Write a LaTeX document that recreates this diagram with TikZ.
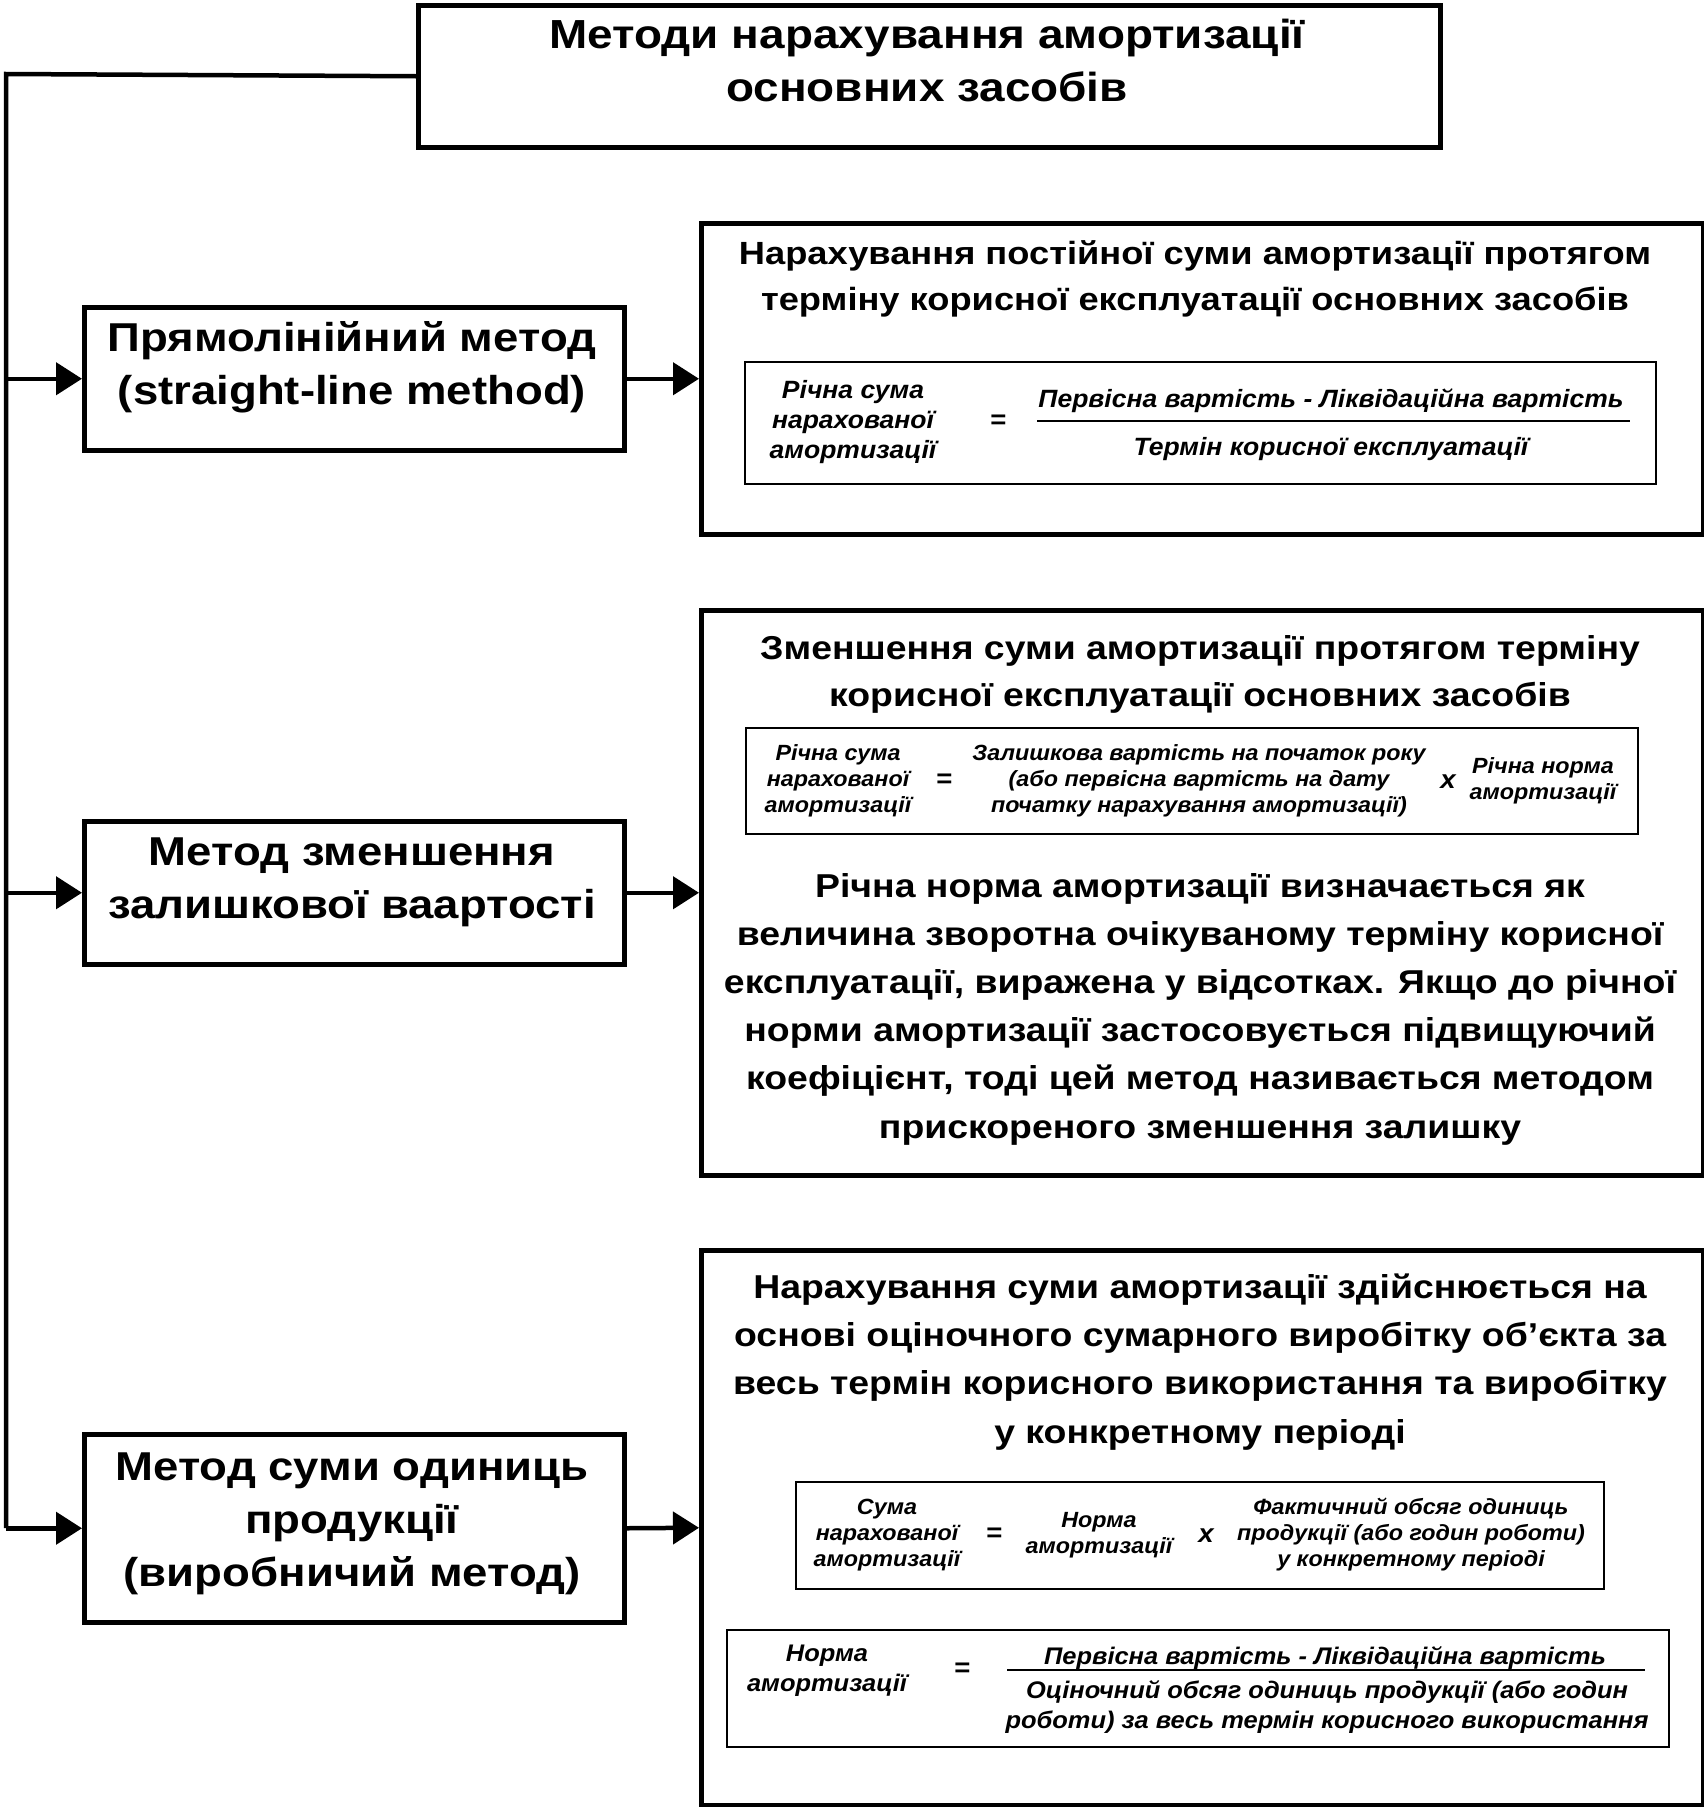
\documentclass[tikz,border=0pt]{standalone}
\usepackage{fontspec}
\setmainfont{Liberation Sans}
\newfontfamily\fwide[FakeStretch=1.13]{Liberation Sans}
\newfontfamily\fform[FakeStretch=1.06]{Liberation Sans}
\usetikzlibrary{arrows.meta}
\tikzset{
  x=1pt,y=1pt,
  bigbox/.style={draw,line width=4.5pt,anchor=north west,inner sep=0pt},
  fbox/.style={draw,line width=2pt,anchor=north west,inner sep=0pt},
  wire/.style={line width=4.5pt},
  arr/.style={line width=4.5pt,-{Triangle[length=26pt,width=32pt]}},
  ttl/.style={font=\fwide\bfseries\fontsize{40.6}{53}\selectfont,align=center,inner sep=0pt},
  mtxt/.style={font=\fwide\bfseries\fontsize{40.3}{53}\selectfont,align=center,inner sep=0pt},
  htxt/.style={font=\fwide\bfseries\fontsize{33.1}{47}\selectfont,align=center,inner sep=0pt},
  htxta/.style={font=\fwide\bfseries\fontsize{32.1}{46}\selectfont,align=center,inner sep=0pt},
  ptxt/.style={font=\fwide\bfseries\fontsize{33.1}{48.2}\selectfont,align=center,inner sep=0pt},
  fa/.style={font=\fform\bfseries\itshape\fontsize{25}{30}\selectfont,align=center,inner sep=0pt},
  fb/.style={font=\fform\bfseries\itshape\fontsize{22}{26}\selectfont,align=center,inner sep=0pt},
  fc/.style={font=\fform\bfseries\itshape\fontsize{24}{30}\selectfont,align=center,inner sep=0pt},
  fop/.style={font=\fform\bfseries\itshape\fontsize{26}{30}\selectfont,inner sep=0pt},
  bar/.style={line width=2pt}
}
\begin{document}
\begin{tikzpicture}
\useasboundingbox (0,0) rectangle (1703,-1807);
% title
\node[bigbox,minimum width=1022,minimum height=142] (title) at (416,-3) {};
\node[ttl] (titletxt) at (927,-60) {Методи нарахування амортизації\\основних засобів};
% left method boxes
\node[bigbox,minimum width=540,minimum height=143] (m1) at (82,-305) {};
\node[mtxt] (m1t) at (352,-367) {Прямолінійний метод\\(straight-line method)};
\node[bigbox,minimum width=540,minimum height=143] (m2) at (82,-819) {};
\node[mtxt] (m2t) at (352,-882) {Метод зменшення\\залишкової ваартості};
\node[bigbox,minimum width=540,minimum height=188] (m3) at (82,-1432) {};
\node[mtxt] (m3t) at (352,-1524) {Метод суми одиниць\\продукції\\(виробничий метод)};
% right boxes
\node[bigbox,minimum width=1002,minimum height=311] (r1) at (699,-221) {};
\node[bigbox,minimum width=1002,minimum height=565] (r2) at (699,-608) {};
\node[bigbox,minimum width=1002,minimum height=555] (r3) at (699,-1248) {};
% connectors
\coordinate (corner) at (6,-74);
\coordinate (vbot) at (6,-1528);
\draw[wire] (title.west) -- (corner) -- (vbot);
\draw[arr] (corner |- m1.west) -- (m1.west);
\draw[arr] (corner |- m2.west) -- (m2.west);
\draw[arr] (corner |- m3.west) -- (m3.west);
\draw[arr] (m1.east) -- (r1.west);
\draw[arr] (m2.east) -- (r2.west);
\draw[arr] (m3.east) -- (r3.west);
% right box 1
\node[htxta] (r1h) at (1195,-279) {Нарахування постійної суми амортизації протягом\\терміну корисної експлуатації основних засобів};
\node[fbox,minimum width=911,minimum height=122] (f1) at (744,-361) {};
\node[fa] (f1a) at (853,-422) {Річна сума\\нарахованої\\амортизації};
\node[fop] (f1eq) at (998,-422) {=};
\node[fa,anchor=base] (f1n) at (1331,-407) {Первісна вартість - Ліквідаційна вартість};
\draw[bar] (1037,-421) -- (1630,-421);
\node[fa,anchor=base] (f1d) at (1331,-455) {Термін корисної експлуатації};
% right box 2
\node[htxt] (r2h) at (1200,-674) {Зменшення суми амортизації протягом терміну\\корисної експлуатації основних засобів};
\node[fbox,minimum width=892,minimum height=106] (f2) at (745,-727) {};
\node[fb] (f2a) at (838,-781) {Річна сума\\нарахованої\\амортизації};
\node[fop] (f2eq) at (944,-781) {=};
\node[fb] (f2b) at (1199,-781) {Залишкова вартість на початок року\\(або первісна вартість на дату\\початку нарахування амортизації)};
\node[fop] (f2x) at (1448,-782) {x};
\node[fb] (f2c) at (1543,-781) {Річна норма\\амортизації};
\node[ptxt] (r2p) at (1200,-1009) {Річна норма амортизації визначається як\\величина зворотна очікуваному терміну корисної\\експлуатації, виражена у відсотках. Якщо до річної\\норми амортизації застосовується підвищуючий\\коефіцієнт, тоді цей метод називається методом\\прискореного зменшення залишку};
% right box 3
\node[ptxt] (r3h) at (1200,-1362) {Нарахування суми амортизації здійснюється на\\основі оціночного сумарного виробітку об’єкта за\\весь термін корисного використання та виробітку\\у конкретному періоді};
\node[fbox,minimum width=808,minimum height=107] (f3) at (795,-1481) {};
\node[fb] (f3a) at (887,-1535) {Сума\\нарахованої\\амортизації};
\node[fop] (f3eq) at (994,-1535) {=};
\node[fb] (f3b) at (1099,-1535) {Норма\\амортизації};
\node[fop] (f3x) at (1206,-1536) {x};
\node[fb] (f3c) at (1411,-1535) {Фактичний обсяг одиниць\\продукції (або годин роботи)\\у конкретному періоді};
\node[fbox,minimum width=942,minimum height=117] (f4) at (726,-1629) {};
\node[fc] (f4a) at (827,-1671) {Норма\\амортизації};
\node[fop] (f4eq) at (962,-1670) {=};
\node[fc,anchor=base] (f4n) at (1325,-1664) {Первісна вартість - Ліквідаційна вартість};
\draw[bar] (1007,-1670) -- (1645,-1670);
\node[fc] (f4d) at (1327,-1707) {Оціночний обсяг одиниць продукції (або годин\\роботи) за весь термін корисного використання};
\end{tikzpicture}
\end{document}
